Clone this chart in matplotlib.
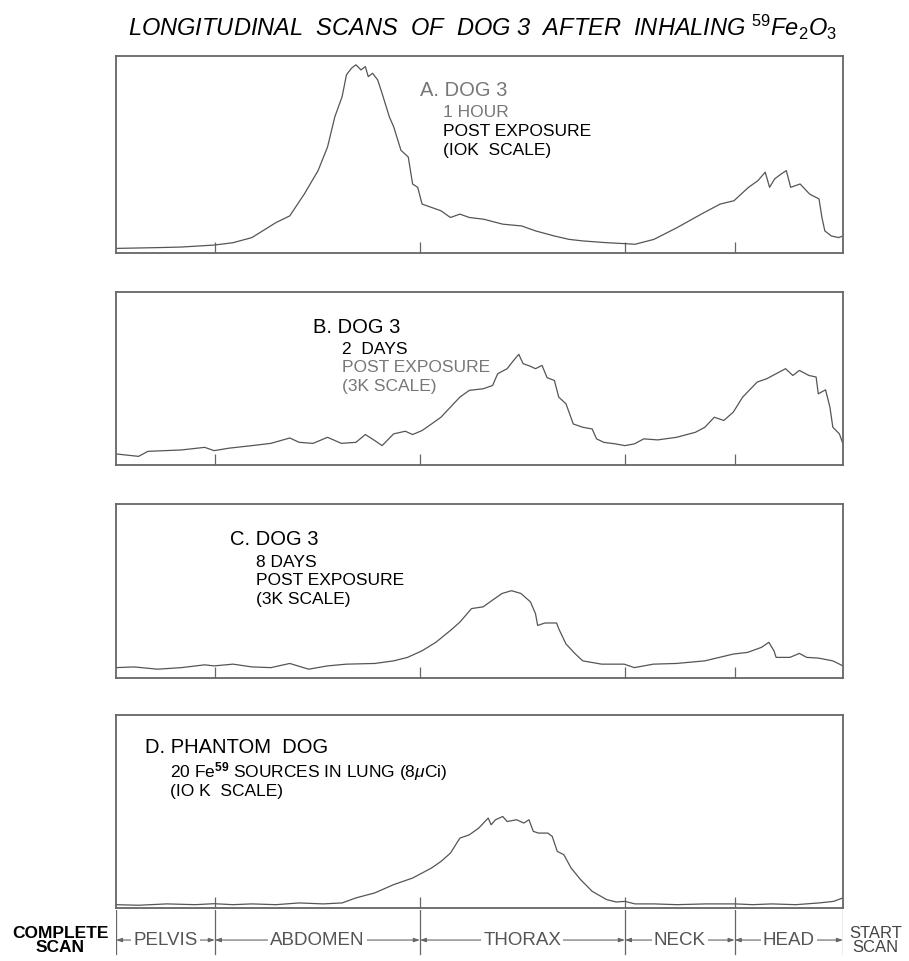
import matplotlib.pyplot as plt

plt.rcParams['font.family'] = ['Liberation Sans', 'DejaVu Sans']
plt.rcParams['mathtext.fontset'] = 'custom'
plt.rcParams['mathtext.rm'] = 'Liberation Sans'
plt.rcParams['mathtext.it'] = 'Liberation Sans:italic'
plt.rcParams['mathtext.bf'] = 'Liberation Sans:bold'

# scan position (% of scan length, pelvis -> head) and relative count rate (% of panel height)
a_pos = [0, 5.7, 9.0, 13.5, 16.1, 18.7, 22.0, 23.9, 25.9, 27.8,
         29.1, 30.1, 31.1, 31.7, 32.4, 33.0, 33.7, 34.3, 34.7, 35.3,
         36.0, 36.6, 37.6, 38.2, 39.2, 40.2, 40.8, 41.5, 42.1, 43.4,
         44.7, 46.0, 47.3, 48.6, 50.6, 53.2, 55.8, 57.7, 60.3, 62.3,
         64.2, 67.5, 70.1, 71.4, 74.0, 77.2, 80.5, 83.1, 85.0, 87.0,
         88.3, 89.3, 89.9, 90.6, 91.5, 92.2, 92.8, 94.1, 95.4, 96.7,
         97.1, 97.5, 98.4, 99.4, 100]
a_cnt = [2.2, 2.6, 2.9, 3.9, 5.1, 7.7, 15.3, 18.7, 29.8, 41.7,
         53.7, 69.0, 79.2, 90.3, 93.7, 95.4, 92.8, 94.5, 89.4, 91.1,
         87.7, 80.9, 69.0, 63.9, 52.0, 48.6, 34.9, 33.2, 24.7, 23.0,
         21.3, 17.9, 19.6, 17.9, 17.0, 14.5, 13.6, 11.1, 8.5, 6.8,
         6.0, 5.1, 4.6, 4.3, 6.8, 12.8, 19.6, 24.7, 26.4, 33.2,
         36.6, 40.9, 33.2, 37.5, 40.0, 41.7, 33.2, 34.9, 29.8, 27.3,
         17.9, 11.1, 8.5, 7.7, 8.5]

b_pos = [0, 3.1, 4.4, 9.0, 12.2, 13.5, 15.5, 18.7, 21.3, 23.9,
         25.2, 27.1, 29.1, 31.0, 33.0, 34.3, 35.6, 36.6, 38.2, 39.8,
         40.8, 42.1, 43.4, 44.7, 46.0, 47.3, 48.6, 50.5, 51.8, 52.5,
         53.8, 54.7, 55.4, 56.0, 57.0, 57.7, 58.6, 59.3, 60.3, 60.9,
         61.9, 62.9, 64.2, 65.5, 66.1, 67.1, 68.7, 70.0, 71.3, 72.6,
         74.5, 77.1, 79.7, 81.0, 82.3, 83.6, 84.9, 86.2, 88.2, 89.5,
         90.8, 92.1, 93.1, 94.0, 95.3, 96.3, 96.6, 97.6, 98.2, 98.6,
         99.5, 100]
b_cnt = [6.4, 5.0, 7.9, 8.7, 10.2, 8.3, 9.7, 11.2, 12.5, 15.6,
         13.1, 12.5, 16.0, 12.5, 13.1, 17.6, 14.1, 11.2, 18.0, 19.5,
         17.6, 19.9, 23.7, 27.6, 33.4, 39.2, 43.1, 44.0, 45.9, 52.7,
         55.6, 60.4, 63.9, 58.5, 57.0, 55.6, 57.5, 50.4, 48.8, 39.2,
         35.3, 23.7, 21.8, 20.8, 15.1, 13.1, 12.2, 11.2, 12.2, 15.1,
         14.5, 16.0, 18.9, 21.8, 27.6, 25.7, 30.5, 39.2, 47.9, 49.8,
         52.7, 55.6, 51.7, 54.6, 51.7, 50.8, 41.1, 43.4, 33.4, 21.8,
         18.0, 12.2]

c_pos = [0, 2.5, 5.7, 9.0, 12.2, 13.5, 16.1, 18.7, 21.3, 23.9,
         26.5, 29.1, 31.7, 35.6, 38.2, 40.1, 42.1, 44.0, 46.0, 47.3,
         48.9, 50.5, 51.8, 53.1, 54.4, 55.7, 57.0, 57.7, 58.0, 59.0,
         60.6, 60.9, 61.9, 63.2, 64.2, 66.8, 69.9, 71.3, 73.9, 77.1,
         81.0, 84.9, 86.9, 88.8, 89.8, 90.5, 90.8, 92.7, 94.0, 95.0,
         96.6, 98.6, 100]
c_cnt = [5.8, 6.2, 4.9, 5.8, 7.4, 6.8, 7.8, 6.2, 5.8, 8.2,
         4.9, 6.8, 7.8, 8.2, 9.7, 11.7, 15.5, 20.4, 27.2, 32.0,
         39.8, 40.8, 44.7, 48.5, 50.1, 48.5, 43.7, 36.9, 30.1, 31.5,
         31.5, 28.2, 19.4, 13.6, 9.7, 7.8, 7.8, 5.8, 7.8, 8.2,
         9.7, 13.6, 14.6, 17.5, 20.4, 15.5, 11.7, 11.7, 14.0, 11.7,
         11.3, 9.7, 6.8]

d_pos = [0, 3.1, 7.0, 10.9, 13.5, 16.1, 18.7, 22.0, 25.2, 28.5,
         31.1, 33.0, 35.6, 38.2, 40.8, 43.4, 44.7, 46.0, 47.3, 48.6,
         49.9, 51.2, 51.6, 52.2, 53.2, 53.8, 55.1, 56.1, 56.8, 57.4,
         58.1, 59.4, 60.0, 60.7, 61.6, 62.6, 63.9, 65.5, 67.5, 68.8,
         70.0, 71.4, 74.0, 77.2, 81.1, 85.2, 87.6, 90.2, 93.5, 96.7,
         98.7, 100]
d_cnt = [1.7, 1.4, 2.1, 1.7, 2.2, 1.7, 2.1, 1.7, 2.6, 2.1,
         2.6, 5.2, 7.8, 12.1, 15.5, 20.7, 24.1, 28.4, 36.2, 37.9,
         41.4, 46.6, 43.1, 45.7, 47.4, 44.8, 45.7, 44.0, 45.7, 39.7,
         38.8, 38.8, 37.1, 29.3, 27.6, 20.7, 14.7, 8.6, 4.3, 3.1,
         3.4, 2.1, 2.1, 1.7, 2.1, 2.1, 1.7, 2.1, 1.7, 2.6,
         3.4, 5.2]

# region boundaries along the scan and their labels
region_edges = [0, 13.6, 41.8, 70.0, 85.1, 100]
region_names = ['PELVIS', 'ABDOMEN', 'THORAX', 'NECK', 'HEAD']

GREY = '#777777'
HEAD_FS = 14.5
SUB_FS = 12.5

panels = [
    (a_pos, a_cnt, [0.1276, 0.7370, 0.7998, 0.2050]),
    (b_pos, b_cnt, [0.1276, 0.5161, 0.7998, 0.1803]),
    (c_pos, c_cnt, [0.1276, 0.2948, 0.7998, 0.1807]),
    (d_pos, d_cnt, [0.1276, 0.0552, 0.7998, 0.2008]),
]

fig = plt.figure(figsize=(9.09, 9.61), dpi=100)
axes = []
for pos, cnt, rect in panels:
    ax = fig.add_axes(rect)
    ax.plot(pos, cnt, color='#555555', lw=0.9)
    ax.set_xlim(0, 100)
    ax.set_ylim(0, 100)
    ax.set_xticks(region_edges[1:-1])
    ax.set_yticks([])
    ax.tick_params(axis='x', direction='in', length=8, width=0.9,
                   color='#666666', labelbottom=False)
    for s in ax.spines.values():
        s.set_color('#666666')
        s.set_linewidth(1.3)
    axes.append(ax)

ax_a, ax_b, ax_c, ax_d = axes

# panel captions
ax_a.text(41.8, 82.6, 'A. DOG 3', fontsize=HEAD_FS, color=GREY, va='center')
ax_a.text(45.0, 71.4, '1 HOUR', fontsize=SUB_FS, color=GREY, va='center')
ax_a.text(45.0, 61.3, 'POST EXPOSURE', fontsize=SUB_FS, color='black', va='center')
ax_a.text(45.0, 52.1, '(IOK  SCALE)', fontsize=SUB_FS, color='black', va='center')

ax_b.text(27.1, 79.1, 'B. DOG 3', fontsize=HEAD_FS, color='black', va='center')
ax_b.text(31.1, 66.9, '2  DAYS', fontsize=SUB_FS, color='black', va='center')
ax_b.text(31.1, 56.5, 'POST EXPOSURE', fontsize=SUB_FS, color=GREY, va='center')
ax_b.text(31.1, 45.6, '(3K SCALE)', fontsize=SUB_FS, color=GREY, va='center')

ax_c.text(15.7, 79.3, 'C. DOG 3', fontsize=HEAD_FS, color='black', va='center')
ax_c.text(19.3, 66.6, '8 DAYS', fontsize=SUB_FS, color='black', va='center')
ax_c.text(19.3, 56.2, 'POST EXPOSURE', fontsize=SUB_FS, color='black', va='center')
ax_c.text(19.3, 45.3, '(3K SCALE)', fontsize=SUB_FS, color='black', va='center')

ax_d.text(4.0, 82.9, 'D. PHANTOM  DOG', fontsize=HEAD_FS, color='black', va='center')
ax_d.text(7.4, 70.5, r'20 Fe$^{\mathbf{59}}$ SOURCES IN LUNG (8$\mu$Ci)',
          fontsize=SUB_FS, color='black', va='center')
ax_d.text(7.4, 60.1, '(IO K  SCALE)', fontsize=SUB_FS, color='black', va='center')

# title
fig.text(0.531, 0.971,
         r'LONGITUDINAL  SCANS  OF  DOG 3  AFTER  INHALING $^{\mathit{59}}$Fe$_{\mathit{2}}$O$_{\mathit{3}}$',
         fontsize=17, fontstyle='italic', ha='center', va='center')

# region scale under the last panel
ax_r = fig.add_axes([0.1276, 0.005, 0.7998, 0.048])
ax_r.set_xlim(0, 100)
ax_r.set_ylim(0, 1)
ax_r.axis('off')
for e in region_edges:
    ax_r.plot([e, e], [0.05, 1.0], color='#666666', lw=0.9)
for i, name in enumerate(region_names):
    lo, hi = region_edges[i], region_edges[i + 1]
    mid = (lo + hi) / 2
    for end in (lo, hi):
        ax_r.annotate('', xy=(end, 0.35), xytext=(mid, 0.35),
                      arrowprops=dict(arrowstyle='-|>,head_length=0.35,head_width=0.12',
                                      color='#666666', lw=0.8,
                                      shrinkA=0, shrinkB=0))
    ax_r.text(mid, 0.35, name, fontsize=13.5, color='#555555', ha='center', va='center',
              bbox=dict(facecolor='white', edgecolor='none', pad=1.5))

fig.text(0.066, 0.0215, 'COMPLETE\nSCAN', fontsize=12.5, fontweight='bold',
         ha='center', va='center', multialignment='center', linespacing=0.95)
fig.text(0.963, 0.0215, 'START\nSCAN', fontsize=12, color='#444444',
         ha='center', va='center', multialignment='center', linespacing=0.95)

fig.savefig('out.png', dpi=100)
